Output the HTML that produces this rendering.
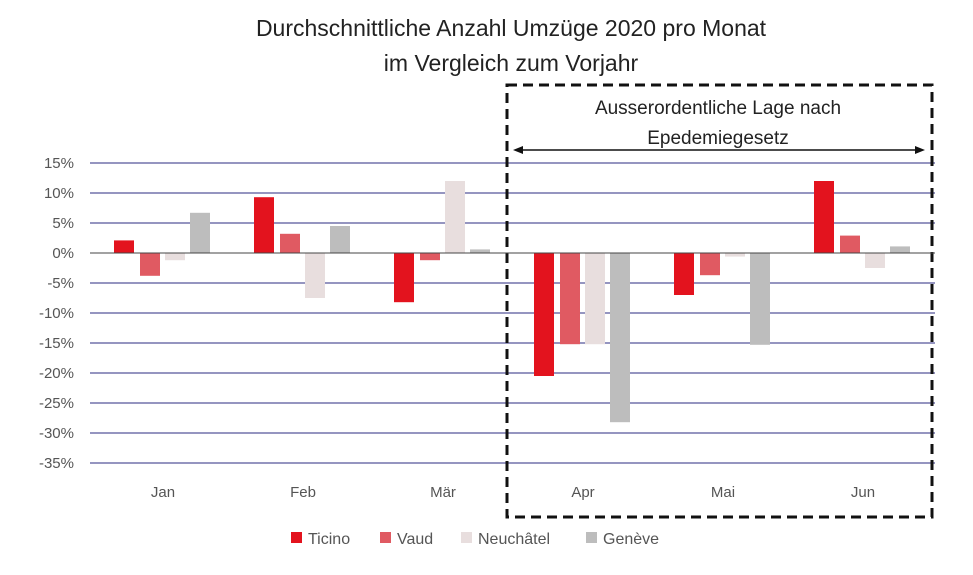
<!DOCTYPE html>
<html><head><meta charset="utf-8"><style>
body{margin:0;background:#fff;}
svg{display:block;font-family:"Liberation Sans",sans-serif;}
</style></head><body>
<svg width="973" height="575" viewBox="0 0 973 575" xmlns="http://www.w3.org/2000/svg">
<rect width="973" height="575" fill="#fff"/>
<text x="511" y="36" font-size="23" text-anchor="middle" fill="#222">Durchschnittliche Anzahl Umzüge 2020 pro Monat</text>
<text x="511" y="71" font-size="23" text-anchor="middle" fill="#222">im Vergleich zum Vorjahr</text>
<g stroke="#2b2b80" stroke-width="1">
<line x1="90" x2="935" y1="163" y2="163"/><line x1="90" x2="935" y1="193" y2="193"/>
<line x1="90" x2="935" y1="223" y2="223"/>
<line x1="90" x2="935" y1="283" y2="283"/><line x1="90" x2="935" y1="313" y2="313"/>
<line x1="90" x2="935" y1="343" y2="343"/><line x1="90" x2="935" y1="373" y2="373"/>
<line x1="90" x2="935" y1="403" y2="403"/><line x1="90" x2="935" y1="433" y2="433"/>
<line x1="90" x2="935" y1="463" y2="463"/>
</g>
<g font-size="15" fill="#555" text-anchor="end">
<text x="74" y="168">15%</text><text x="74" y="198">10%</text><text x="74" y="228">5%</text>
<text x="74" y="258">0%</text><text x="74" y="288">-5%</text><text x="74" y="318">-10%</text>
<text x="74" y="348">-15%</text><text x="74" y="378">-20%</text><text x="74" y="408">-25%</text>
<text x="74" y="438">-30%</text><text x="74" y="468">-35%</text>
</g>
<g font-size="15" fill="#555" text-anchor="middle">
<text x="163" y="497">Jan</text><text x="303" y="497">Feb</text><text x="443" y="497">Mär</text>
<text x="583" y="497">Apr</text><text x="723" y="497">Mai</text><text x="863" y="497">Jun</text>
</g>
<rect x="507" y="85" width="425" height="432" fill="none" stroke="#111" stroke-width="3" stroke-dasharray="10,6"/>
<text x="718" y="114" font-size="19" text-anchor="middle" fill="#222">Ausserordentliche Lage nach</text>
<text x="718" y="144" font-size="19" text-anchor="middle" fill="#222">Epedemiegesetz</text>
<line x1="520" x2="918" y1="150" y2="150" stroke="#111" stroke-width="1.5"/>
<polygon points="513,150 523,146 523,154" fill="#111"/>
<polygon points="925,150 915,146 915,154" fill="#111"/>
<g font-size="16" fill="#555">
<rect x="291" y="532" width="11" height="11" fill="#e3131e"/><text x="308" y="544">Ticino</text>
<rect x="380" y="532" width="11" height="11" fill="#e05a62"/><text x="397" y="544">Vaud</text>
<rect x="461" y="532" width="11" height="11" fill="#e8dede"/><text x="478" y="544">Neuchâtel</text>
<rect x="586" y="532" width="11" height="11" fill="#bdbdbd"/><text x="603" y="544">Genève</text>
</g>
<g>
<rect x="114" y="240.4" width="20" height="12.6" fill="#e3131e"/>
<rect x="140" y="253" width="20" height="22.8" fill="#e05a62"/>
<rect x="165" y="253" width="20" height="7.2" fill="#e8dede"/>
<rect x="190" y="212.8" width="20" height="40.2" fill="#bdbdbd"/>
<rect x="254" y="197.2" width="20" height="55.8" fill="#e3131e"/>
<rect x="280" y="233.8" width="20" height="19.2" fill="#e05a62"/>
<rect x="305" y="253" width="20" height="45" fill="#e8dede"/>
<rect x="330" y="226" width="20" height="27" fill="#bdbdbd"/>
<rect x="394" y="253" width="20" height="49.2" fill="#e3131e"/>
<rect x="420" y="253" width="20" height="7.2" fill="#e05a62"/>
<rect x="445" y="181" width="20" height="72" fill="#e8dede"/>
<rect x="470" y="249.4" width="20" height="3.6" fill="#bdbdbd"/>
<rect x="534" y="253" width="20" height="123" fill="#e3131e"/>
<rect x="560" y="253" width="20" height="91.2" fill="#e05a62"/>
<rect x="585" y="253" width="20" height="91.2" fill="#e8dede"/>
<rect x="610" y="253" width="20" height="169.2" fill="#bdbdbd"/>
<rect x="674" y="253" width="20" height="42" fill="#e3131e"/>
<rect x="700" y="253" width="20" height="22.2" fill="#e05a62"/>
<rect x="725" y="253" width="20" height="3.6" fill="#e8dede"/>
<rect x="750" y="253" width="20" height="91.8" fill="#bdbdbd"/>
<rect x="814" y="181" width="20" height="72" fill="#e3131e"/>
<rect x="840" y="235.6" width="20" height="17.4" fill="#e05a62"/>
<rect x="865" y="253" width="20" height="15" fill="#e8dede"/>
<rect x="890" y="246.4" width="20" height="6.6" fill="#bdbdbd"/>
</g>
<line x1="90" x2="935" y1="253" y2="253" stroke="#444" stroke-width="1"/>
</svg>
</body></html>
